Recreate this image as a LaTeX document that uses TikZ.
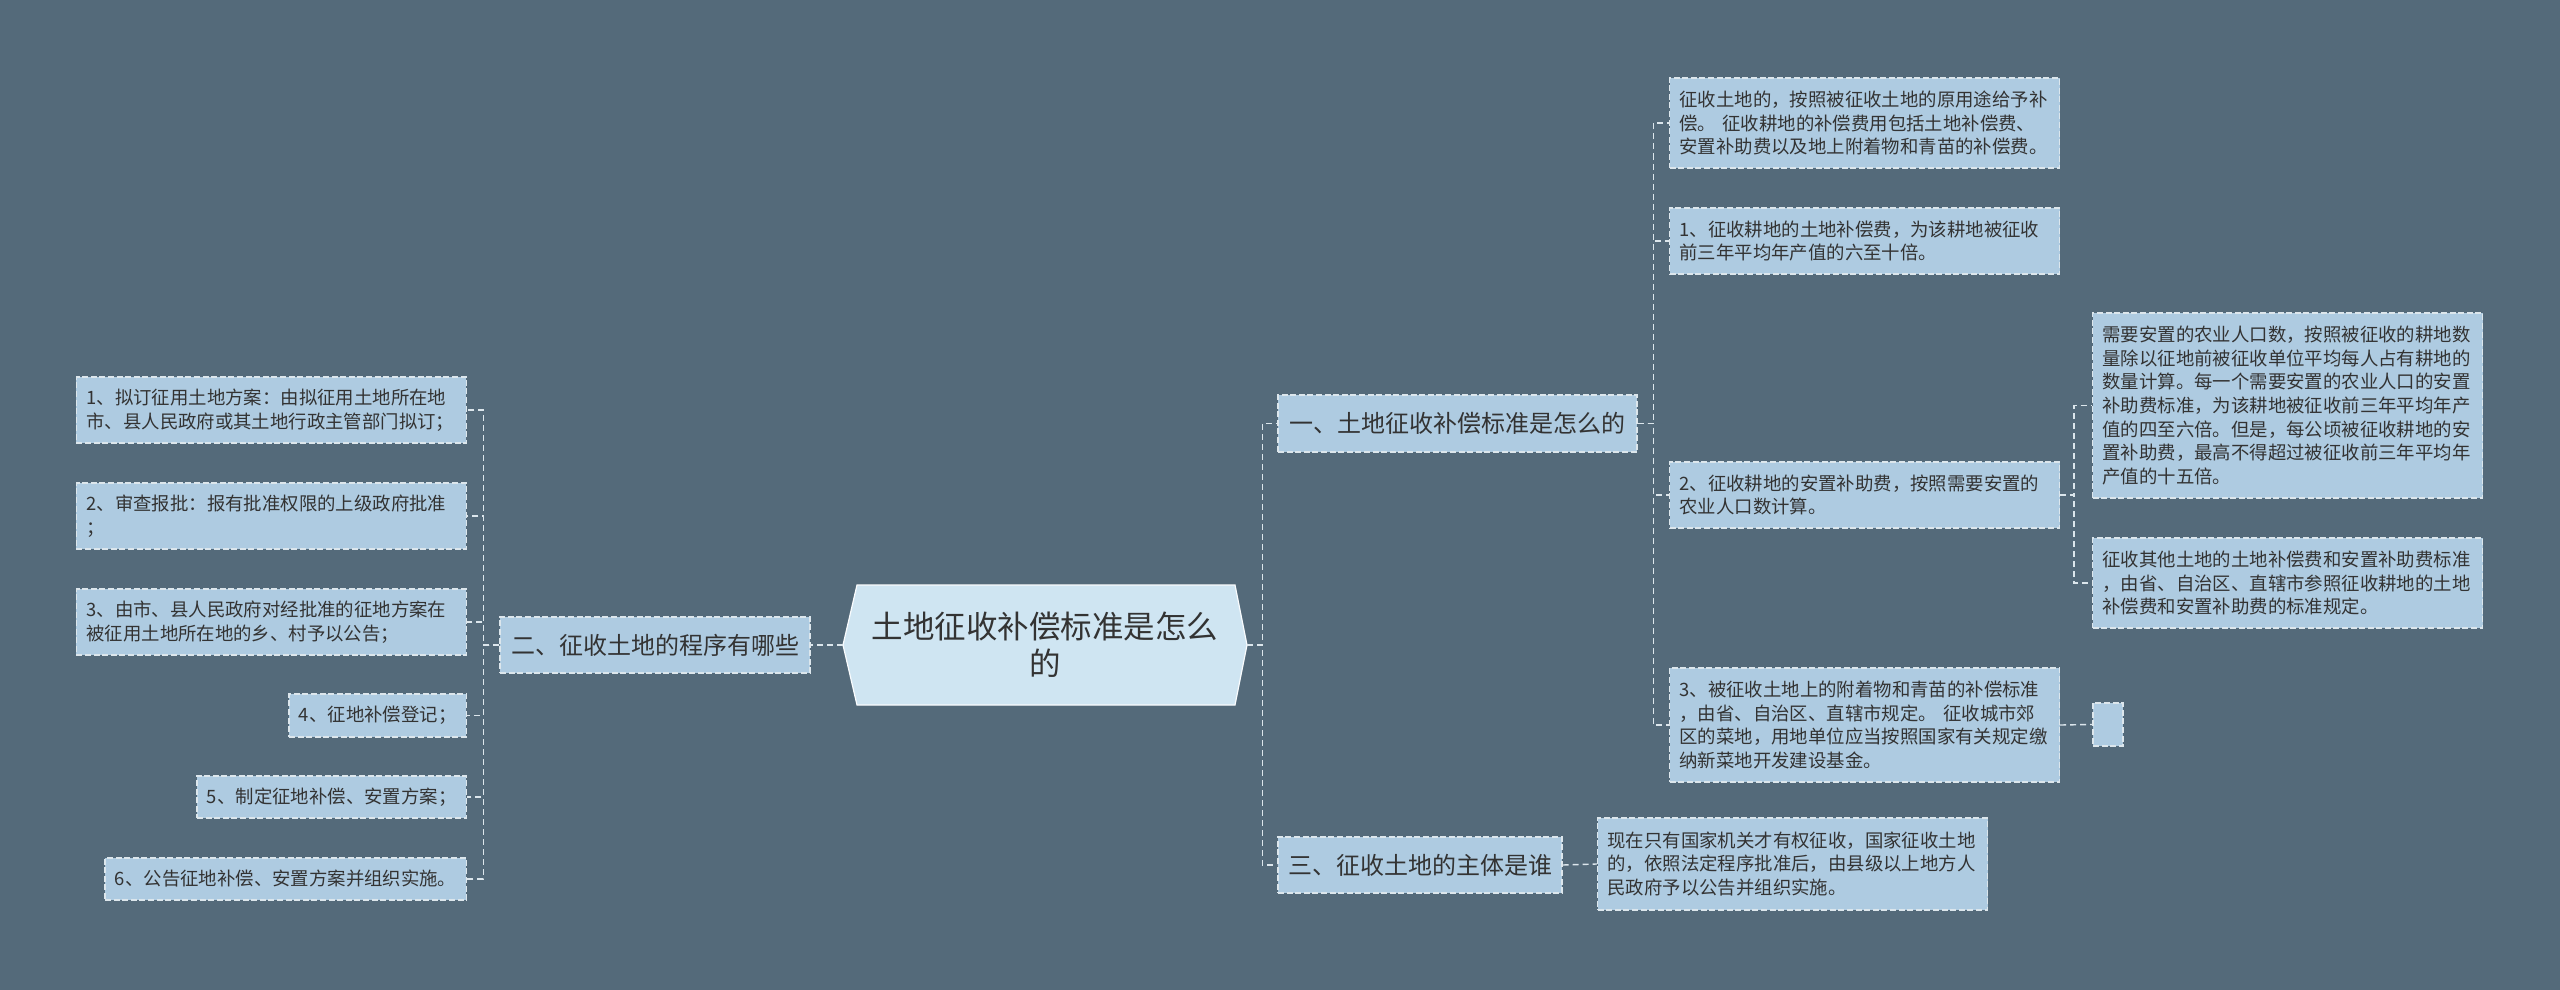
\documentclass[tikz,border=0pt]{standalone}
\usepackage{fontspec}
\setmainfont{Noto Sans CJK SC}
\definecolor{bg}{HTML}{546A7A}
\definecolor{boxfill}{HTML}{AECBE1}
\definecolor{rootfill}{HTML}{CFE5F2}
\definecolor{txt}{HTML}{333333}
\definecolor{lineclr}{HTML}{DCE6EC}
\tikzset{
  leafbox/.style={draw=lineclr, dash pattern=on 3pt off 1.3pt, line width=0.6pt, fill=boxfill, text=txt,
    font=\fontsize{9.2pt}{11.8pt}\selectfont, align=left, inner xsep=5pt, inner ysep=0pt},
  widebox/.style={leafbox, text width=185pt},
  branchbox/.style={draw=lineclr, dash pattern=on 3pt off 1.3pt, line width=0.6pt, fill=boxfill, text=txt,
    font=\fontsize{12pt}{14pt}\selectfont, inner sep=0pt},
  conn/.style={draw=lineclr, dash pattern=on 3pt off 2pt, line width=0.7pt}
}
\begin{document}
\begin{tikzpicture}[x=0.5pt,y=-0.5pt]
\path[use as bounding box, fill=bg] (0,0) rectangle (2560,990);
% root hexagon
\draw[fill=rootfill, draw=white!90!rootfill, line width=0.6pt]
  (843,645) -- (857,585) -- (1235,585) -- (1247,645) -- (1235,705) -- (857,705) -- cycle;
\node[font=\fontsize{15.75pt}{18.5pt}\selectfont, text=txt, align=center, minimum width=202pt,
  minimum height=60pt, inner sep=0pt] (root) at (1045,645) {土地征收补偿标准是怎么\\的};
% branches
\node[branchbox, minimum width=179.5pt, minimum height=28.5pt] (b1) at (1457.5,423.5) {一、土地征收补偿标准是怎么的};
\node[branchbox, minimum width=155pt, minimum height=28pt] (b2) at (655,645) {二、征收土地的程序有哪些};
\node[branchbox, minimum width=142pt, minimum height=28pt] (b3) at (1420,865) {三、征收土地的主体是谁};
% branch 1 children
\node[widebox, minimum height=45pt] (c1) at (1864.5,123) {征收土地的，按照被征收土地的原用途给予补\\偿。\ 征收耕地的补偿费用包括土地补偿费、\\安置补助费以及地上附着物和青苗的补偿费。};
\node[widebox, minimum height=33pt] (c2) at (1864.5,241) {1、征收耕地的土地补偿费，为该耕地被征收\\前三年平均年产值的六至十倍。};
\node[widebox, minimum height=33pt] (c3) at (1864.5,495) {2、征收耕地的安置补助费，按照需要安置的\\农业人口数计算。};
\node[widebox, minimum height=57pt] (c4) at (1864.5,725) {3、被征收土地上的附着物和青苗的补偿标准\\，由省、自治区、直辖市规定。\ 征收城市郊\\区的菜地，用地单位应当按照国家有关规定缴\\纳新菜地开发建设基金。};
\node[widebox, minimum height=92.5pt] (gA) at (2287.5,405.5) {需要安置的农业人口数，按照被征收的耕地数\\量除以征地前被征收单位平均每人占有耕地的\\数量计算。每一个需要安置的农业人口的安置\\补助费标准，为该耕地被征收前三年平均年产\\值的四至六倍。但是，每公顷被征收耕地的安\\置补助费，最高不得超过被征收前三年平均年\\产值的十五倍。};
\node[widebox, minimum height=45pt] (gB) at (2287.5,583) {征收其他土地的土地补偿费和安置补助费标准\\，由省、自治区、直辖市参照征收耕地的土地\\补偿费和安置补助费的标准规定。};
\node[leafbox, minimum width=15pt, minimum height=21.5pt] (e) at (2108,724.5) {};
% branch 3 child
\node[widebox, minimum height=46pt] (d1) at (1792.5,864) {现在只有国家机关才有权征收，国家征收土地\\的，依照法定程序批准后，由县级以上地方人\\民政府予以公告并组织实施。};
% branch 2 children
\node[widebox, minimum height=33pt, anchor=east] (L1) at (467,410) {1、拟订征用土地方案：由拟征用土地所在地\\市、县人民政府或其土地行政主管部门拟订；};
\node[widebox, minimum height=33pt, anchor=east] (L2) at (467,516) {2、审查报批：报有批准权限的上级政府批准\\；};
\node[widebox, minimum height=33pt, anchor=east] (L3) at (467,622) {3、由市、县人民政府对经批准的征地方案在\\被征用土地所在地的乡、村予以公告；};
\node[leafbox, minimum height=21.5pt, anchor=east] (L4) at (467,715.5) {4、征地补偿登记；};
\node[leafbox, minimum height=21pt, anchor=east] (L5) at (467,797) {5、制定征地补偿、安置方案；};
\node[leafbox, minimum height=21pt, anchor=east] (L6) at (467,879) {6、公告征地补偿、安置方案并组织实施。};
% connectors
\draw[conn] (root.east) -- ++(15,0) |- (b1.west);
\draw[conn] (root.east) -- ++(15,0) |- (b3.west);
\draw[conn] (root.west) -- (b2.east);
\foreach \n in {L1,L2,L3,L4,L5,L6} \draw[conn] (b2.west) -- ++(-16,0) |- (\n.east);
\foreach \n in {c1,c2,c3,c4} \draw[conn] (b1.east) -- ++(16,0) |- (\n.west);
\draw[conn] (c3.east) -- ++(14,0) |- (gA.west);
\draw[conn] (c3.east) -- ++(14,0) |- (gB.west);
\draw[conn] (c4.east) -- (e.west);
\draw[conn] (b3.east) -- (d1.west);
\end{tikzpicture}
\end{document}
